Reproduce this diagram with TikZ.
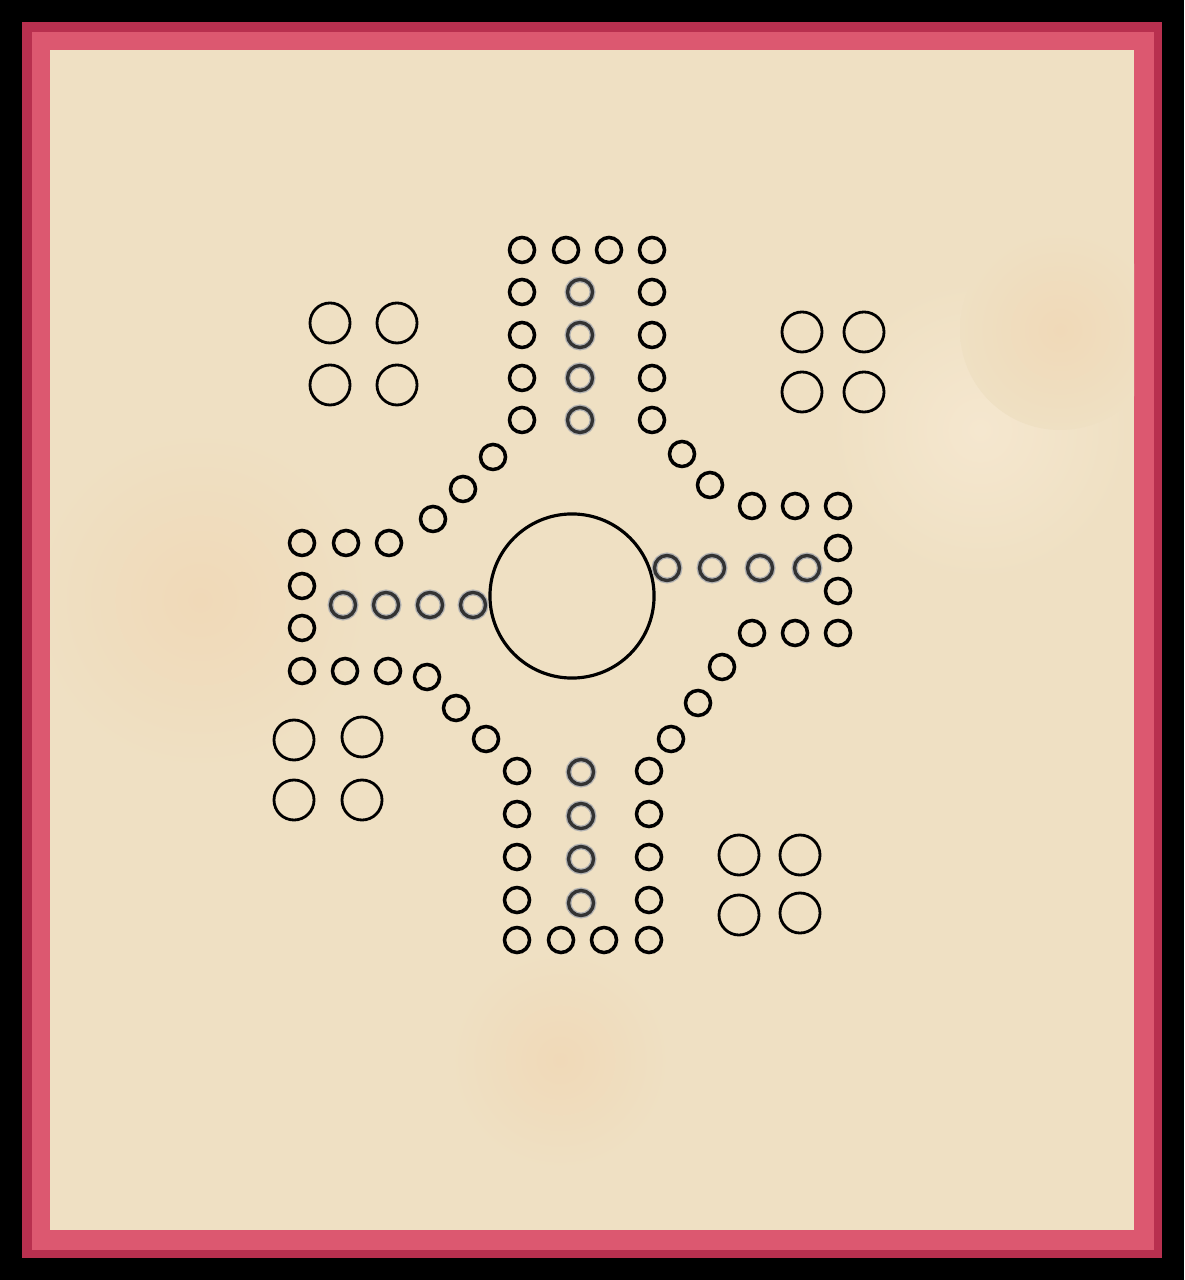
\documentclass[tikz,border=0pt]{standalone}
\usetikzlibrary{shapes.geometric}
\definecolor{frameblack}{HTML}{000000}
\definecolor{framedark}{HTML}{B8304F}
\definecolor{framepink}{HTML}{DC5870}
\definecolor{cream}{HTML}{EFE0C3}
\definecolor{peach}{HTML}{F0D9B8}
\definecolor{lightcream}{HTML}{F5E7CF}
\tikzset{
  peg/.style={circle, draw=black, line width=1pt, inner sep=0pt, minimum size=0.25cm},
  softpeg/.style={circle, draw=black!80, line width=0.95pt, inner sep=0pt, minimum size=0.25cm,
    preaction={draw=black!30, line width=1.7pt}},
  homepeg/.style={circle, draw=black, line width=0.8pt, inner sep=0pt, minimum size=0.40cm},
  hub/.style={circle, draw=black, line width=0.9pt, inner sep=0pt, minimum size=1.64cm}
}
\begin{document}
\begin{tikzpicture}[x=0.01cm,y=-0.01cm]
\useasboundingbox (0,0) rectangle (1184,1280);
% frame
\fill[frameblack] (0,0) rectangle (1184,1280);
\fill[framedark] (22,22) rectangle (1162,1258);
\fill[framepink] (32,32) rectangle (1154,1250);
\fill[cream] (50,50) rectangle (1134,1230);
% subtle paper tones
\begin{scope}
\clip (50,50) rectangle (1134,1230);
\shade[inner color=peach, outer color=cream] (200,600) circle (170);
\shade[inner color=lightcream, outer color=cream] (980,430) circle (150);
\shade[inner color=peach, outer color=cream] (1060,330) circle (100);
\shade[inner color=peach, outer color=cream] (560,1060) circle (110);
\end{scope}
% central circle
\node[hub] (hub) at (572,596) {};
% home circles
\foreach \x/\y [count=\i] in {330/323,397/323,330/385,397/385}
  \node[homepeg] (htl\i) at (\x,\y) {};
\foreach \x/\y [count=\i] in {802/332,864/332,802/392,864/392}
  \node[homepeg] (htr\i) at (\x,\y) {};
\foreach \x/\y [count=\i] in {294/740,362/737,294/800,362/800}
  \node[homepeg] (hbl\i) at (\x,\y) {};
\foreach \x/\y [count=\i] in {739/855,800/855,739/915,800/913}
  \node[homepeg] (hbr\i) at (\x,\y) {};
% track pegs
\foreach \x/\y [count=\i] in {
  522/250,566/250,609/250,652/250,
  522/292,652/292,522/335,652/335,522/378,652/378,522/420,652/420,
  493/457,463/489,433/519,
  682/454,710/485,
  302/543,346/543,389/543,302/586,302/628,
  302/671,345/671,388/671,427/677,456/708,486/739,
  752/506,795/506,838/506,838/548,838/591,752/633,795/633,838/633,
  722/667,698/703,671/739,
  517/771,649/771,517/814,649/814,517/857,649/857,517/900,649/900,
  517/940,561/940,604/940,649/940}
  \node[peg] (t\i) at (\x,\y) {};
% home-column pegs (softer)
\foreach \x/\y [count=\i] in {
  580/292,580/335,580/378,580/420,
  343/605,386/605,430/605,473/605,
  667/568,712/568,760/568,807/568,
  581/772,581/816,581/859,581/903}
  \node[softpeg] (c\i) at (\x,\y) {};
\end{tikzpicture}
\end{document}
